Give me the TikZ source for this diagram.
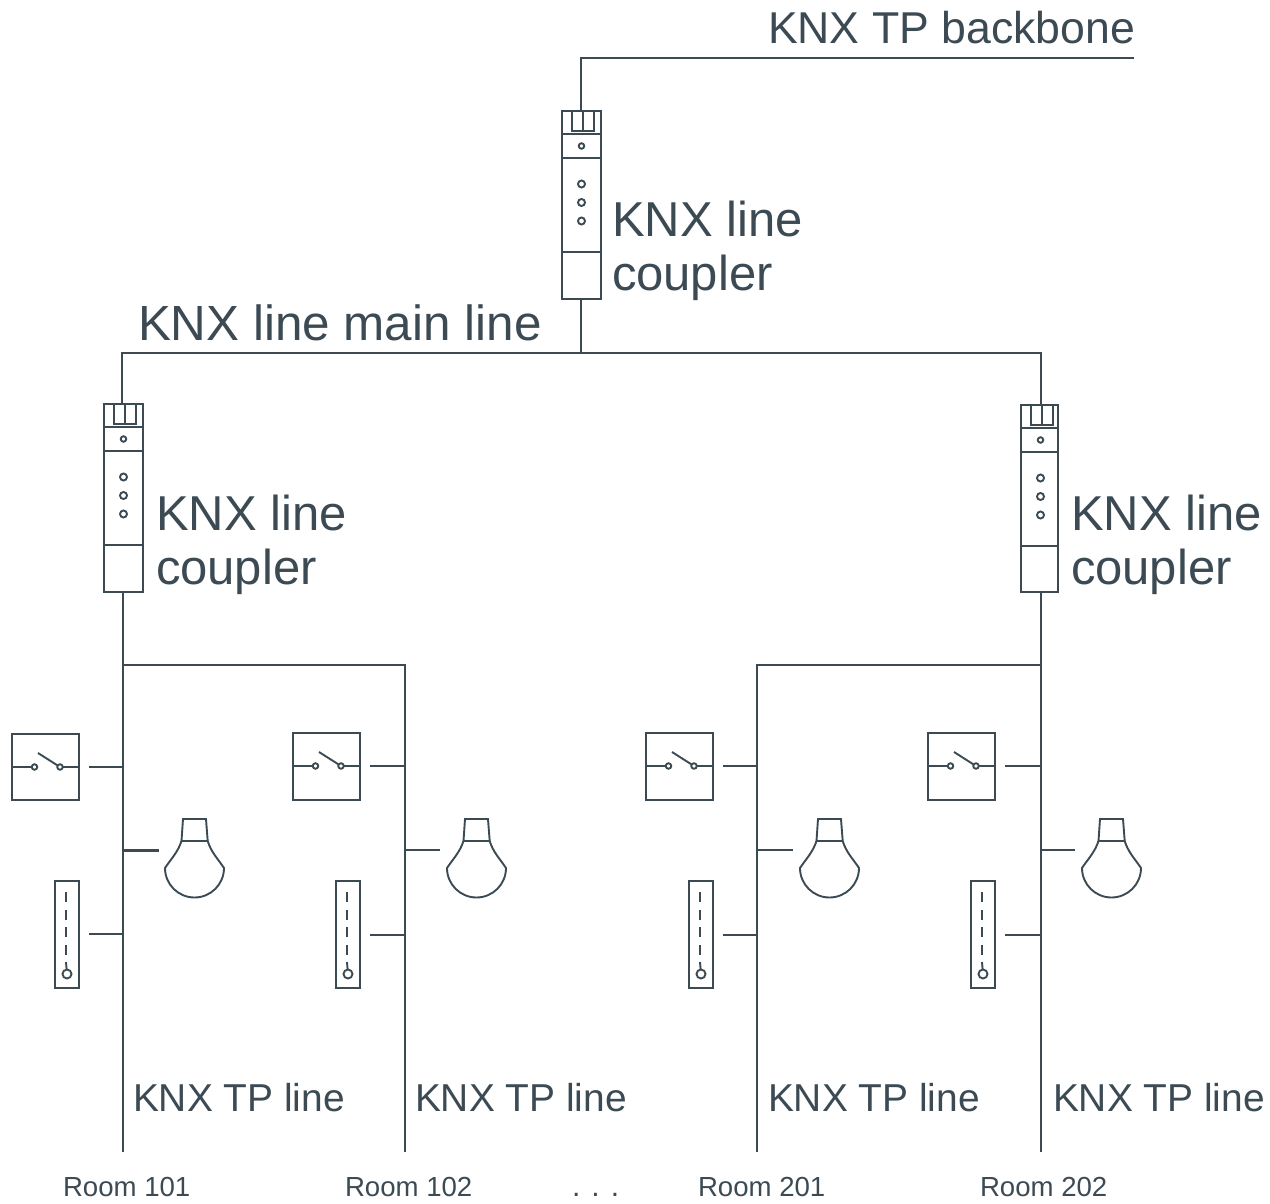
\documentclass[tikz,border=0pt]{standalone}
\usepackage{fontspec}
\setmainfont{Liberation Sans}
\definecolor{ink}{HTML}{3C4A54}
\tikzset{
  wire/.style={draw=ink,line width=2pt},
  thin part/.style={draw=ink,line width=1.9pt},
  box/.style={draw=ink,line width=1.9pt,inner sep=0pt,outer sep=0pt,anchor=north west,fill=white},
  lbl/.style={inner sep=0pt,outer sep=0pt,anchor=base west,text=ink},
  big/.style={lbl,font=\fontsize{49}{54}\selectfont,align=left},
  back/.style={lbl,font=\fontsize{44.6}{50}\selectfont},
  mainl/.style={lbl,font=\fontsize{49.4}{54}\selectfont},
  tpl/.style={lbl,font=\fontsize{38.9}{44}\selectfont},
  room/.style={lbl,font=\fontsize{27.6}{30}\selectfont},
  pin/.style={circle,draw=ink,line width=1.9pt,inner sep=0pt,outer sep=0pt,fill=white},
}
% coupler: name, left x, top y, width, height
\newcommand{\couplerdev}[5]{%
  \node[box,minimum width=#4pt,minimum height=#5pt] (#1) at (#2,#3) {};
  \begin{scope}[shift={(#2,#3)}]
    \draw[thin part] (0,23) -- (#4,23) (0,47) -- (#4,47) (0,141) -- (#4,141);
    \draw[thin part] (10,0) -- (10,20) -- (32,20) -- (32,0) (21,0) -- (21,20);
    \node[pin,minimum size=5.5pt] (#1p) at (19.5,35) {};
    \node[pin,minimum size=7pt] (#1a) at (19.5,73) {};
    \node[pin,minimum size=7pt] (#1b) at (19.5,91.5) {};
    \node[pin,minimum size=7pt] (#1c) at (19.5,110) {};
  \end{scope}}
% room devices: name, device dx, bus x, y nudge, bulb extra dx
\newcommand{\roomdevs}[5]{%
  \begin{scope}[shift={(#2,0)}]
    \node[box,minimum width=67pt,minimum height={(66-#4)*1pt}] (#1s) at (12,{734+#4}) {};
    \node[pin,minimum size=5.5pt] (#1sa) at (34.5,{767+#4}) {};
    \node[pin,minimum size=5.5pt] (#1sb) at (60,{767+#4}) {};
    \draw[thin part] (12,{767+#4}) -- (#1sa) (#1sb) -- (79,{767+#4});
    \draw[thin part] (38,{753+#4}) -- (#1sb);
    \node[box,minimum width=24pt,minimum height=107pt] (#1t) at (55,881) {};
    \node[pin,minimum size=9pt] (#1tc) at (67,974) {};
    \draw[draw=ink,line width=1.7pt,dash pattern=on 10pt off 7.5pt] (66,892) -- (66,955);
    \draw[thin part] (66,962) -- (#1tc);
    \begin{scope}[shift={(#5,0)}]
    \draw[thin part] (183,819) -- (206,819) -- (207.7,841) -- (181.5,841) -- cycle;
    \draw[thin part] (181.5,841) .. controls (178,852) and (171,859) .. (165,868)
       arc[start angle=180,end angle=0,radius=29.5] .. controls (218,859) and (211,852) .. (207.7,841);
    \end{scope}
    \coordinate (#1l) at (159,850);
    \coordinate (#1x) at (89,{767+#4});
    \coordinate (#1y) at (89,{934-#4});
  \end{scope}
  \coordinate (#1X) at (#3,{767+#4});
  \coordinate (#1L) at (#3,850);
  \coordinate (#1Y) at (#3,{934-#4});
  \draw[wire] (#1x) -- (#1X) (#1y) -- (#1Y) (#1l) -- (#1L);}
\begin{document}
\begin{tikzpicture}[x=1pt,y=-1pt]
\useasboundingbox (0,0) rectangle (1270,1204);
% buses and wiring
\coordinate (bbend) at (1134,58);
\coordinate (bbcorner) at (581,58);
\coordinate (mainL) at (122,353);
\coordinate (mainC) at (581,353);
\coordinate (mainR) at (1041,353);
\coordinate (busA) at (123,1152);
\coordinate (busB) at (405,1152);
\coordinate (busC) at (757,1152);
\coordinate (busD) at (1041,1152);
\coordinate (joinA) at (123,665);
\coordinate (joinB) at (405,665);
\coordinate (joinC) at (757,665);
\coordinate (joinD) at (1041,665);
\couplerdev{ctop}{562}{111}{39}{188}
\couplerdev{cleft}{104}{404}{39}{188}
\couplerdev{cright}{1021}{405}{37}{187}
\draw[wire] (bbend) -- (bbcorner) -- (581,111);
\draw[wire] (581,299) -- (mainC);
\draw[wire] (122,404) -- (mainL) -- (mainR) -- (1041,405);
\draw[wire] (123,592) -- (busA);
\draw[wire] (1041,592) -- (busD);
\draw[wire] (joinA) -- (joinB) -- (busB);
\draw[wire] (joinD) -- (joinC) -- (busC);
\roomdevs{ra}{0}{123}{0}{0}
\roomdevs{rb}{281}{405}{-1}{1}
\roomdevs{rc}{634}{757}{-1}{1}
\roomdevs{rd}{916}{1041}{-1}{1}
\draw[draw=ink,line width=3pt] (ral) -- (raL);
% labels
\node[back] (lbb) at (768,44) {KNX TP backbone};
\node[mainl] (lml) at (138,340) {KNX line main line};
\node[big] (l1) at (612,290) {KNX line\\coupler};
\node[big] (l2) at (156,584) {KNX line\\coupler};
\node[big] (l3) at (1071,584) {KNX line\\coupler};
\node[tpl] (t1) at (133,1111) {KNX TP line};
\node[tpl] (t2) at (415,1111) {KNX TP line};
\node[tpl] (t3) at (768,1111) {KNX TP line};
\node[tpl] (t4) at (1053,1111) {KNX TP line};
\node[room] (r1) at (63,1196) {Room 101};
\node[room] (r2) at (345,1196) {Room 102};
\node[room] (r3) at (698,1196) {Room 201};
\node[room] (r4) at (980,1196) {Room 202};
\node[room,font=\fontsize{30}{32}\selectfont] (dots) at (572,1196) {. . .};
\end{tikzpicture}
\end{document}
